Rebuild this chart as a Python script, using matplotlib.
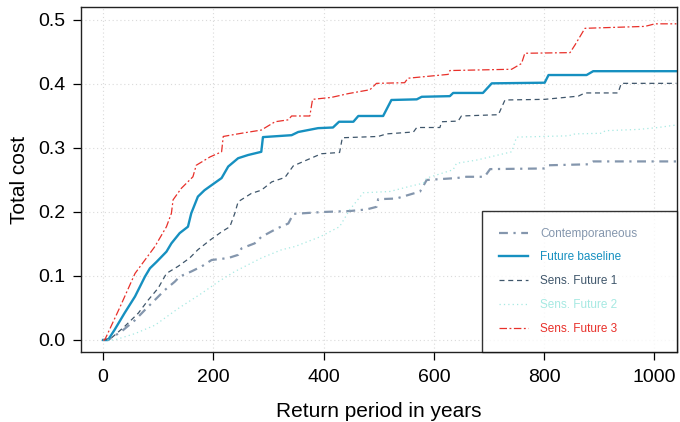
import matplotlib
matplotlib.use("Agg")
import matplotlib.pyplot as plt

plt.rcParams['font.family'] = ['Liberation Sans', 'DejaVu Sans']

# return period (years) / total cost
cont_x = [0, 9, 33, 58, 76, 94, 112, 130, 139, 160, 179, 197, 227, 245, 251, 275, 287, 315, 336, 345,
          399, 448, 478, 496, 499, 532, 575, 587, 641, 659, 692, 702, 801, 808, 880, 889, 1040]
cont_y = [0, 0, 0.013, 0.031, 0.047, 0.0625, 0.078, 0.091, 0.099, 0.107, 0.115, 0.125, 0.128, 0.133,
          0.143, 0.151, 0.161, 0.174, 0.182, 0.197, 0.2, 0.2015, 0.204, 0.208, 0.22, 0.221, 0.232,
          0.25, 0.253, 0.255, 0.255, 0.267, 0.268, 0.273, 0.2745, 0.279, 0.279]

base_x = [0, 9, 21, 39, 58, 76, 85, 97, 106, 115, 124, 139, 154, 160, 172, 184, 197, 215, 227, 245,
          263, 287, 290, 342, 354, 390, 417, 428, 454, 463, 508, 523, 569, 578, 629, 635, 689, 705,
          801, 808, 877, 889, 1040]
base_y = [0, 0, 0.016, 0.042, 0.068, 0.099, 0.112, 0.122, 0.13, 0.138, 0.151, 0.167, 0.177, 0.198,
          0.224, 0.234, 0.242, 0.253, 0.271, 0.284, 0.289, 0.294, 0.317, 0.32, 0.325, 0.331, 0.332,
          0.341, 0.341, 0.35, 0.35, 0.375, 0.376, 0.38, 0.381, 0.386, 0.386, 0.401, 0.402, 0.414,
          0.414, 0.42, 0.42]

sens1_x = [0, 15, 39, 64, 82, 100, 115, 136, 157, 172, 194, 215, 230, 239, 245, 269, 287, 306, 330,
           345, 369, 396, 429, 434, 499, 514, 563, 569, 611, 614, 644, 650, 717, 729, 801, 862, 874,
           934, 940, 1040]
sens1_y = [0, 0.003, 0.021, 0.042, 0.0625, 0.081, 0.104, 0.115, 0.128, 0.141, 0.156, 0.169, 0.177,
           0.198, 0.216, 0.229, 0.234, 0.247, 0.254, 0.272, 0.281, 0.291, 0.293, 0.316, 0.318, 0.322,
           0.325, 0.332, 0.332, 0.341, 0.342, 0.35, 0.352, 0.375, 0.376, 0.381, 0.386, 0.386, 0.401,
           0.401]

sens2_x = [0, 21, 58, 94, 136, 179, 209, 239, 287, 324, 348, 393, 429, 447, 472, 520, 556, 581, 587,
           635, 641, 677, 702, 741, 750, 844, 856, 904, 911, 971, 1007, 1040]
sens2_y = [0, 0, 0.010, 0.023, 0.049, 0.073, 0.091, 0.107, 0.128, 0.141, 0.146, 0.161, 0.177, 0.203,
           0.230, 0.232, 0.24, 0.245, 0.253, 0.266, 0.276, 0.281, 0.286, 0.294, 0.317, 0.319, 0.322,
           0.323, 0.327, 0.329, 0.332, 0.336]

sens3_x = [0, 3, 30, 58, 76, 94, 115, 124, 127, 142, 163, 169, 194, 215, 218, 251, 287, 312, 336, 342,
           375, 380, 414, 445, 484, 496, 547, 553, 626, 629, 741, 759, 765, 847, 856, 874, 983, 1001,
           1040]
sens3_y = [0, 0, 0.05, 0.104, 0.125, 0.146, 0.177, 0.198, 0.219, 0.237, 0.255, 0.273, 0.286, 0.294,
           0.318, 0.323, 0.328, 0.341, 0.344, 0.35, 0.35, 0.376, 0.379, 0.385, 0.391, 0.401, 0.402,
           0.409, 0.415, 0.421, 0.423, 0.432, 0.448, 0.449, 0.461, 0.487, 0.49, 0.494, 0.494]

xticks = [0, 200, 400, 600, 800, 1000]
yticks = [0.0, 0.1, 0.2, 0.3, 0.4, 0.5]

fig = plt.figure(figsize=(6.8, 4.22), dpi=100)
ax = fig.add_axes([81 / 680, 70 / 422, 596 / 680, 345 / 422])

for v in xticks:
    ax.axvline(v, color='#dadada', lw=0.8, ls=(0, (1, 2.5)), zorder=0)
for v in yticks:
    ax.axhline(v, color='#dadada', lw=0.8, ls=(0, (1, 2.5)), zorder=0)

ax.plot(cont_x, cont_y, color='#8496ad', lw=1.6, dashes=(4, 2.5, 1, 2.5), label='Contemporaneous')
ax.plot(base_x, base_y, color='#1690c0', lw=1.7, label='Future baseline')
ax.plot(sens1_x, sens1_y, color='#3f566b', lw=0.9, dashes=(4, 3), label='Sens. Future 1')
ax.plot(sens2_x, sens2_y, color='#a6e9e2', lw=0.9, dashes=(1, 2.5), label='Sens. Future 2')
ax.plot(sens3_x, sens3_y, color='#e8302a', lw=0.9, dashes=(6, 2, 1.5, 2), label='Sens. Future 3')

ax.set_xlim(-40, 1041)
ax.set_ylim(-0.0188, 0.5203)
ax.set_xticks(xticks)
ax.set_xticklabels([str(v) for v in xticks])
ax.set_yticks(yticks)
ax.set_yticklabels([f'{v:.1f}' for v in yticks])
ax.tick_params(direction='out', length=6, width=0.9, labelsize=14)
ax.tick_params(axis='x', pad=6)
ax.tick_params(axis='y', pad=5)
for s in ax.spines.values():
    s.set_linewidth(1.0)
    s.set_color('#222222')

ax.set_xlabel('Return period in years', fontsize=15, labelpad=12)
ax.set_ylabel('Total cost', fontsize=15, labelpad=7)

leg = ax.legend(loc='lower left', bbox_to_anchor=(0.673, 0, 0.327, 0.5), mode='expand',
                fontsize=8.5, frameon=True, fancybox=False, borderaxespad=0, borderpad=1.45,
                labelspacing=1.0, handlelength=2.45, handletextpad=1.0)
leg.get_frame().set_edgecolor('black')
leg.get_frame().set_linewidth(1.0)
for txt, line in zip(leg.get_texts(), leg.get_lines()):
    txt.set_color(line.get_color())

fig.savefig('out.png', dpi=100)
